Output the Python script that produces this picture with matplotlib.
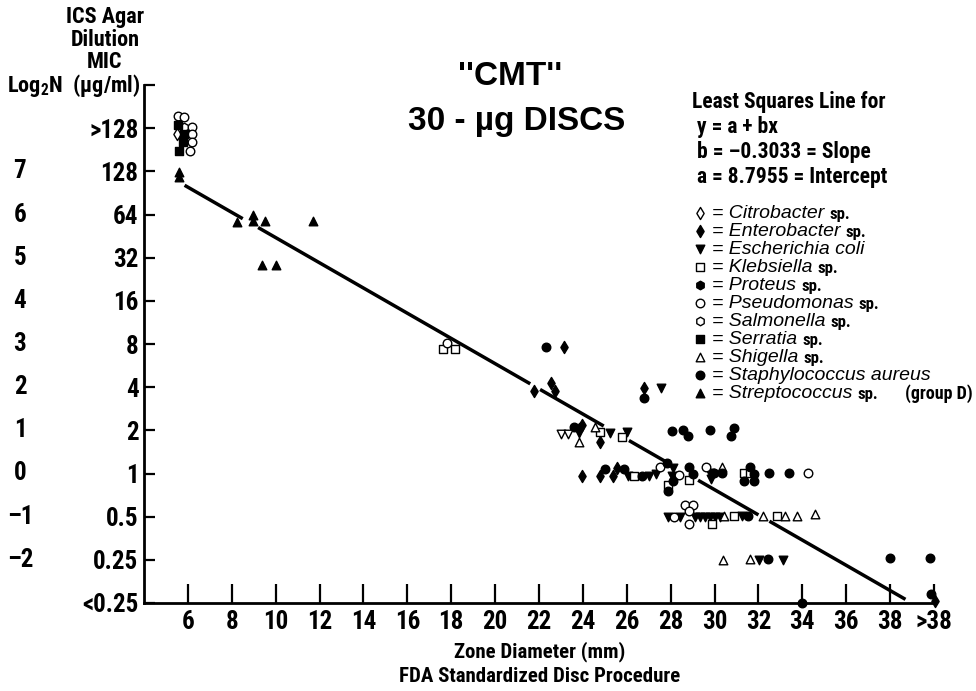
import matplotlib
matplotlib.use("Agg")
import matplotlib.pyplot as plt
from matplotlib import font_manager as fm
import numpy as np

# pick a narrow face for the condensed lettering, if one is installed
avail = {(f.name, str(f.stretch)) for f in fm.fontManager.ttflist}
names = {n for n, s in avail}
if 'Liberation Sans Narrow' in names:
    NARROW, STRETCH, K = 'Liberation Sans Narrow', 'normal', 1.0
elif 'Roboto Condensed' in names:
    NARROW, STRETCH, K = 'Roboto Condensed', 'normal', 1.0
elif ('DejaVu Sans', 'condensed') in avail:
    NARROW, STRETCH, K = 'DejaVu Sans', 'condensed', 0.9
else:
    NARROW, STRETCH, K = 'Liberation Sans', 'normal', 0.8

plt.rcParams['font.family'] = [NARROW, 'DejaVu Sans']
plt.rcParams['font.stretch'] = STRETCH
plt.rcParams['mathtext.fontset'] = 'custom'
plt.rcParams['mathtext.rm'] = NARROW + ':bold'
plt.rcParams['mathtext.default'] = 'rm'

# tick values
x_ticks = [6, 8, 10, 12, 14, 16, 18, 20, 22, 24, 26, 28, 30, 32, 34, 36, 38, 40]
x_labels = ['6', '8', '10', '12', '14', '16', '18', '20', '22', '24', '26', '28',
            '30', '32', '34', '36', '38', '>38']
y_ticks = [-3, -2, -1, 0, 1, 2, 3, 4, 5, 6, 7, 8, 9]
mic_labels = ['<0.25', '0.25', '0.5', '1', '2', '4', '8', '16', '32', '64', '128', '>128', '']
log_labels = ['', '\u20132', '\u20131', '0', '1', '2', '3', '4', '5', '6', '7', '', '']

# least squares line as drawn
line_a = 8.385
line_b = -0.292
line_pieces = [(5.85, 8.5), (9.2, 21.6), (22.05, 24.95), (26.1, 27.8), (29.25, 32.0), (32.5, 38.7)]

# points per organism (zone diameter, log2 MIC incl. stacking offset)
citro_x = [5.5]
citro_y = [7.86]
entero_x = [23.12, 22.53, 22.71, 21.75, 26.78, 23.95, 23.81, 24.77, 23.95, 24.77, 25.36, 25.54, 40.05]
entero_y = [2.94, 2.10, 1.92, 1.92, 1.97, 1.13, 1.04, 0.74, -0.05, -0.05, -0.05, 0.12, -2.95]
ecoli_x = [27.55, 23.81, 25.22, 26.0, 26.05, 27.0, 27.32, 28.1, 28.05, 29.8, 29.85,
           27.87, 28.42, 29.1, 29.33, 29.56, 29.79, 30.02, 30.25, 31.25, 32.03, 33.12]
ecoli_y = [1.97, 0.94, 0.94, 0.97, -0.05, -0.05, 0.0, 0.12, -0.05, 0.02, -0.12,
           -1.0, -1.0, -1.0, -1.0, -1.0, -1.0, -1.0, -1.0, -0.98, -2.0, -2.0]
kleb_x = [17.64, 18.19, 24.77, 25.77, 26.32, 27.87, 28.83, 31.34, 31.6, 29.88, 30.89, 32.85]
kleb_y = [2.89, 2.89, 0.97, 0.85, -0.05, -0.26, -0.15, 0.02, 0.02, -1.17, -0.98, -0.98]
pseudo_x = [5.54, 5.82, 6.18, 6.18, 6.18, 6.09, 17.83, 27.51, 28.37, 29.6, 34.28,
            28.15, 28.65, 29.0, 28.83, 28.83]
pseudo_y = [8.28, 8.25, 8.02, 7.86, 7.67, 7.46, 3.03, 0.14, -0.03, 0.14, 0.02,
            -1.0, -0.73, -0.73, -0.87, -1.17]
salmo_x = [5.82]
salmo_y = [8.02]
serr_x = [5.54, 5.82, 5.77, 5.59]
serr_y = [8.07, 7.86, 7.67, 7.46]
shig_x = [23.81, 24.54, 30.36, 30.43, 32.21, 33.21, 33.76, 34.58, 30.38, 31.62]
shig_y = [0.74, 1.08, 0.14, -0.98, -0.98, -0.98, -0.98, -0.94, -2.0, -1.98]
staph_x = [22.3, 26.78, 23.58, 28.05, 28.56, 28.79, 29.79, 30.89, 30.75,
           25.0, 25.86, 26.68, 27.83, 28.1, 27.87, 28.83, 29.01, 29.97, 30.36, 31.6, 31.8,
           31.34, 31.8, 32.48, 33.4, 31.53, 32.44, 38.0, 39.8, 34.0, 39.85]
staph_y = [2.94, 1.76, 1.08, 0.98, 1.0, 0.86, 1.0, 1.05, 0.86,
           0.1, 0.1, -0.05, 0.25, -0.17, -0.4, 0.14, 0.0, 0.02, 0.02, 0.14, -0.02,
           -0.17, -0.17, 0.02, 0.02, -0.98, -1.98, -1.95, -1.95, -3.0, -2.8]
strep_x = [5.59, 5.59, 8.24, 8.97, 8.97, 9.52, 11.71, 9.38, 10.02]
strep_y = [6.98, 6.86, 5.82, 5.98, 5.84, 5.86, 5.86, 4.84, 4.84]
openv_x = [22.99, 23.31]
openv_y = [0.92, 0.92]

species = [
    ('Citrobacter', ' sp.', citro_x, citro_y, 'd', 'white'),
    ('Enterobacter', ' sp.', entero_x, entero_y, 'd', 'black'),
    ('Escherichia coli', '', ecoli_x, ecoli_y, 'v', 'black'),
    ('Klebsiella', ' sp.', kleb_x, kleb_y, 's', 'white'),
    ('Proteus', ' sp.', [], [], 'h', 'black'),
    ('Pseudomonas', ' sp.', pseudo_x, pseudo_y, 'o', 'white'),
    ('Salmonella', ' sp.', salmo_x, salmo_y, 'h', 'white'),
    ('Serratia', ' sp.', serr_x, serr_y, 's', 'black'),
    ('Shigella', ' sp.', shig_x, shig_y, '^', 'white'),
    ('Staphylococcus aureus', '', staph_x, staph_y, 'o', 'black'),
    ('Streptococcus', ' sp.', strep_x, strep_y, '^', 'black'),
]

W, H = 976, 691
fig = plt.figure(figsize=(W / 100, H / 100), dpi=100)
ax = fig.add_axes([144 / W, 1 - 603 / H, (934 - 144) / W, (603 - 85) / H])
ax.set_xlim(4, 40)
ax.set_ylim(-3, 9)
for s in ['top', 'right']:
    ax.spines[s].set_visible(False)
for s in ['left', 'bottom']:
    ax.spines[s].set_linewidth(2)

ax.set_xticks(x_ticks)
ax.set_xticklabels(x_labels, fontsize=18 * K, fontweight='bold')
ax.set_yticks(y_ticks)
ax.set_yticklabels(mic_labels, fontsize=18 * K, fontweight='bold')
ax.tick_params(axis='x', direction='in', length=14, width=1.6, pad=5)
ax.tick_params(axis='y', direction='in', length=8, width=1.6, pad=4)

for yv, lab in zip(y_ticks, log_labels):
    ax.text(-(144 - 20) / (934 - 144), yv, lab, transform=ax.get_yaxis_transform(),
            ha='center', va='center', fontsize=18 * K, fontweight='bold')

# regression line
for x0, x1 in line_pieces:
    xs = np.array([x0, x1])
    ax.plot(xs, line_a + line_b * xs, color='black', lw=2.5, solid_capstyle='butt')

for name, sp, xs, ys, m, fc in species:
    ax.scatter(xs, ys, marker=m, s=38, facecolor=fc, edgecolor='black', linewidths=1,
               zorder=3, clip_on=False)
ax.scatter(openv_x, openv_y, marker='v', s=38, facecolor='white', edgecolor='black',
           linewidths=1, zorder=3, clip_on=False)

# overlay in pixel coordinates for the free text
ov = fig.add_axes([0, 0, 1, 1])
ov.set_xlim(0, W)
ov.set_ylim(H, 0)
ov.axis('off')
ov.patch.set_alpha(0)

ov.text(105, 17, 'ICS Agar', ha='center', va='center', fontsize=16 * K, fontweight='bold')
ov.text(105, 40, 'Dilution', ha='center', va='center', fontsize=16 * K, fontweight='bold')
ov.text(105, 62, 'MIC', ha='center', va='center', fontsize=16 * K, fontweight='bold')
ov.text(141, 85, r'Log$_2$N  (µg/ml)', ha='right', va='center', fontsize=16 * K, fontweight='bold')

ov.text(510, 76, "''CMT''", ha='center', va='center', fontsize=24, fontweight='bold',
        family=['Liberation Sans', 'DejaVu Sans'], stretch='normal')
ov.text(517, 121, '30 - µg DISCS', ha='center', va='center', fontsize=24, fontweight='bold',
        family=['Liberation Sans', 'DejaVu Sans'], stretch='normal')

ov.text(540, 652, 'Zone Diameter (mm)', ha='center', va='center', fontsize=15 * K, fontweight='bold')
ov.text(540, 677, 'FDA Standardized Disc Procedure', ha='center', va='center', fontsize=15 * K,
        fontweight='bold')

eq_lines = ['Least Squares Line for', ' y = a + bx', ' b = \u20130.3033 = Slope', ' a = 8.7955 = Intercept']
for i, t in enumerate(eq_lines):
    ov.text(692, 102 + i * 25, t, ha='left', va='center', fontsize=15.5 * K, fontweight='bold')

fig.canvas.draw()
for i, (name, sp, xs, ys, m, fc) in enumerate(species):
    yy = 213 + i * 18
    ov.scatter([700], [yy], marker=m, s=38, facecolor=fc, edgecolor='black', linewidths=1)
    t = ov.text(712, yy, '= ' + name, ha='left', va='center', fontsize=14, style='italic',
                family=['Liberation Sans', 'DejaVu Sans'], stretch='normal')
    if sp:
        bb = t.get_window_extent(renderer=fig.canvas.get_renderer())
        ov.text(bb.x1 + 5, yy + 1, sp.strip(), ha='left', va='center', fontsize=12 * K,
                fontweight='bold')
ov.text(905, 394, '(group D)', ha='left', va='center', fontsize=13 * K, fontweight='bold')

fig.savefig('out.png', dpi=100)
